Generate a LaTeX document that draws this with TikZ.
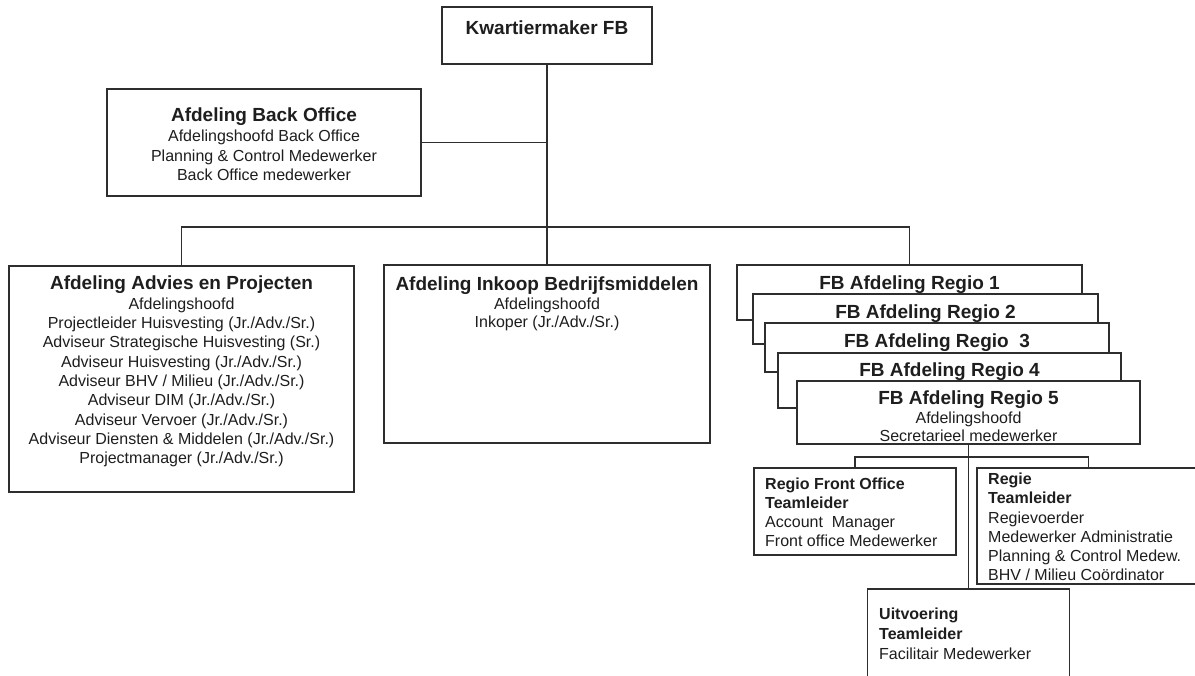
\documentclass[tikz,border=0pt]{standalone}
\usepackage{fontspec}
\setmainfont{Liberation Sans}
\definecolor{lineclr}{HTML}{2E2E2E}
\definecolor{txtclr}{HTML}{1E1E1E}
\newcommand{\headfont}{\fontsize{19}{20}\selectfont\bfseries}
\newcommand{\bodyfont}{\fontsize{16}{19.3}\selectfont}
\begin{document}
\begin{tikzpicture}[x=1pt,y=-1pt,
  orgbox/.style={draw=lineclr, line width=1.4pt, fill=white, inner sep=0pt, outer sep=0pt},
  openbox/.style={draw=none, fill=white, inner sep=0pt, outer sep=0pt},
  link/.style={draw=lineclr, line width=1.3pt},
  lbl/.style={text=txtclr, inner sep=0pt, align=center, font=\bodyfont, anchor=north},
  lbll/.style={text=txtclr, inner sep=0pt, align=left, font=\bodyfont, anchor=north west}]

\fill[white] (0,0) rectangle (1195,676);
\useasboundingbox (0,0) rectangle (1195,676);
\clip (0,0) rectangle (1195,676);

% top of the organisation
\node[orgbox, minimum width=210pt, minimum height=57pt] (kw) at (547,35.5) {};
\node[lbl] (kwT) at (547,21) {\headfont Kwartiermaker FB};

% staff department
\node[orgbox, minimum width=314pt, minimum height=107pt] (bo) at (264,142.5) {};
\node[lbl, font=\fontsize{16}{19.6}\selectfont] (boT) at (264,108)
  {{\headfont Afdeling Back Office}\\Afdelingshoofd Back Office\\Planning \& Control Medewerker\\Back Office medewerker};

% line departments
\node[orgbox, minimum width=345pt, minimum height=226pt] (adv) at (181.5,379) {};
\node[lbl] (advT) at (181.5,276)
  {{\headfont Afdeling Advies en Projecten}\\Afdelingshoofd\\Projectleider Huisvesting (Jr./Adv./Sr.)\\
   Adviseur Strategische Huisvesting (Sr.)\\Adviseur Huisvesting (Jr./Adv./Sr.)\\
   Adviseur BHV / Milieu (Jr./Adv./Sr.)\\Adviseur DIM (Jr./Adv./Sr.)\\Adviseur Vervoer (Jr./Adv./Sr.)\\
   Adviseur Diensten \& Middelen (Jr./Adv./Sr.)\\Projectmanager (Jr./Adv./Sr.)};

\node[orgbox, minimum width=326pt, minimum height=178pt] (ink) at (547,354) {};
\node[lbl, font=\fontsize{16}{18.5}\selectfont] (inkT) at (547,277)
  {{\headfont Afdeling Inkoop Bedrijfsmiddelen}\\Afdelingshoofd\\Inkoper (Jr./Adv./Sr.)};

% stacked regional departments
\node[orgbox, minimum width=345pt, minimum height=55pt] (R1) at (909.5,292.5) {};
\node[lbl] (R1T) at (909.5,276) {\headfont FB Afdeling Regio 1};
\node[orgbox, minimum width=345pt, minimum height=50pt] (R2) at (925.5,319) {};
\node[lbl] (R2T) at (925.5,305) {\headfont FB Afdeling Regio 2};
\node[orgbox, minimum width=344pt, minimum height=49pt] (R3) at (937,347.5) {};
\node[lbl] (R3T) at (937,334) {\headfont FB Afdeling Regio\ \ 3};
\node[orgbox, minimum width=343pt, minimum height=55pt] (R4) at (949.5,380.5) {};
\node[lbl] (R4T) at (949.5,363) {\headfont FB Afdeling Regio 4};
\node[orgbox, minimum width=343pt, minimum height=63pt] (R5) at (968.5,412.5) {};
\node[lbl, font=\fontsize{16}{17.5}\selectfont] (R5T) at (968.5,391)
  {{\headfont FB Afdeling Regio 5}\\[1.5pt]Afdelingshoofd\\Secretarieel medewerker};

% teams of a region
\node[orgbox, minimum width=202pt, minimum height=87pt] (fo) at (855,511.5) {};
\node[lbll, font=\fontsize{16}{19}\selectfont] (foT) at (765,478)
  {\textbf{Regio Front Office}\\\textbf{Teamleider}\\Account\ \ Manager\\Front office Medewerker};

% this box runs on past the right margin: only three sides are drawn
\node[openbox, minimum width=253pt, minimum height=116pt] (rg) at (1103.5,526) {};
\draw[draw=lineclr, line width=1.4pt] (rg.north east) -- (rg.north west) -- (rg.south west) -- (rg.south east);
\node[lbll, font=\fontsize{16}{19.2}\selectfont] (rgT) at (988,473)
  {\textbf{Regie}\\\textbf{Teamleider}\\Regievoerder\\Medewerker Administratie\\Planning \& Control Medew.\\BHV / Milieu Co\"ordinator};
\coordinate (rgtop) at (1088.5,468);

% this box runs on past the bottom margin: only three sides are drawn
\node[openbox, minimum width=202pt, minimum height=100pt] (uv) at (968.5,639) {};
\draw[draw=lineclr, line width=1.4pt] (uv.south west) -- (uv.north west) -- (uv.north east) -- (uv.south east);
\node[lbll, font=\fontsize{16}{20}\selectfont] (uvT) at (879,608)
  {\textbf{Uitvoering}\\\textbf{Teamleider}\\Facilitair Medewerker};

% reporting lines
\coordinate (bus) at (547,227);
\coordinate (subbus) at (968.5,457);
\draw[link] (kw.south) -- (ink.north);
\draw[link] (bo.east) -- (bo.east -| kw.south);
\draw[link] (adv.north) |- (bus) -| (R1.north);
\draw[link] (R5.south) -- (uv.north);
\draw[link] (fo.north) |- (subbus) -| (rgtop);
\end{tikzpicture}
\end{document}
